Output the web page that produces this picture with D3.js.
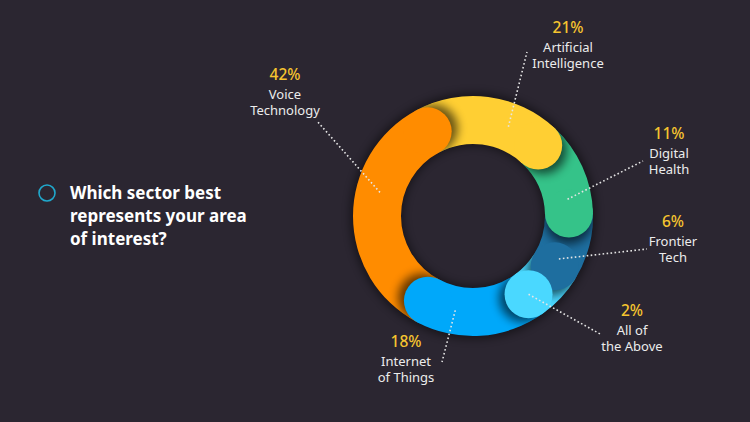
<!DOCTYPE html>
<html><head><meta charset="utf-8">
<script src="https://cdn.jsdelivr.net/npm/d3@7"></script>
<style>html,body{margin:0;padding:0;background:#2b2631;} svg{display:block}</style>
</head><body>
<svg id="c" width="750" height="422"></svg>
<script>
// ---- data ----
const categories = ["Voice Technology","Artificial Intelligence","Digital Health","Frontier Tech","All of the Above","Internet of Things"];
const nameLines = [["Voice","Technology"],["Artificial","Intelligence"],["Digital","Health"],["Frontier","Tech"],["All of","the Above"],["Internet","of Things"]];
const values = [42,21,11,6,2,18];
const colors = ["#ff8c00","#ffcf33","#35c389","#1e6e9f","#4ad8ff","#00a8fa"];
const title = ["Which sector best","represents your area","of interest?"];

// ---- layout ----
const W=750,H=422, cx=473, cy=216, rOut=120, rIn=72;
const rMid=(rOut+rIn)/2, capR=(rOut-rIn)/2, capA=capR/rMid;
const deg=Math.PI/180;
const startA=208*deg;
const labelAnchor=[[285,81],[568,34],[669,140],[673,228],[632,317],[406,348]];
const leaderEnd=[[317,121],[527,52],[643,161],[647,249],[602,335],[442,362]];

const svg=d3.select("#c");
svg.append("rect").attr("width",W).attr("height",H).attr("fill","#2b2631");
const defs=svg.append("defs");
defs.append("filter").attr("id","blur").attr("x","-50%").attr("y","-50%").attr("width","200%").attr("height","200%")
  .append("feGaussianBlur").attr("stdDeviation",5);
defs.append("filter").attr("id","ringBlur").attr("x","-20%").attr("y","-20%").attr("width","140%").attr("height","140%")
  .append("feGaussianBlur").attr("stdDeviation",4);

const pie=d3.pie().sort(null).value(d=>d).startAngle(startA).endAngle(startA+2*Math.PI).padAngle(18*deg);
const arcs=pie(values);
const arcGen=d3.arc().innerRadius(rIn).outerRadius(rOut).padAngle(0);
const pol=(r,a)=>[cx+r*Math.sin(a), cy-r*Math.cos(a)];

const g=svg.append("g");
// ring shadow
g.append("path").attr("transform",`translate(${cx},${cy})`)
  .attr("d",d3.arc().innerRadius(rIn-2).outerRadius(rOut+3)({startAngle:0,endAngle:2*Math.PI}))
  .attr("fill","#000").attr("opacity",0.45).attr("filter","url(#ringBlur)");

// bodies
g.selectAll("path.body").data(arcs).join("path").attr("class","body")
  .attr("transform",`translate(${cx},${cy})`)
  .attr("d",d=>arcGen(d)).attr("fill",(d,i)=>colors[i]);

// clip paths for shadows (forward wedge from each end)
arcs.forEach((d,i)=>{
  defs.append("clipPath").attr("id","clip"+i).append("path")
    .attr("transform",`translate(${cx},${cy})`)
    .attr("d",arcGen({startAngle:d.endAngle,endAngle:d.endAngle+50*deg}));
});

// end caps with shadows
arcs.forEach((d,i)=>{
  const [sx,sy]=pol(rMid,d.endAngle+0.07);
  g.append("g").attr("clip-path",`url(#clip${i})`)
    .append("circle").attr("cx",sx).attr("cy",sy).attr("r",capR)
    .attr("fill","#000").attr("opacity",0.6).attr("filter","url(#blur)");
  const [x,y]=pol(rMid,d.endAngle);
  g.append("circle").attr("cx",x).attr("cy",y).attr("r",capR).attr("fill",colors[i]);
});

// leader lines: from the middle of each segment's visible part
arcs.forEach((d,i)=>{
  const span=d.endAngle-d.startAngle;
  let a;
  if(span<2*capA){ a=d.endAngle; }
  else {
    const next=arcs[(i+1)%arcs.length];
    const nspan=next.endAngle-next.startAngle;
    const lo=d.startAngle+capA;
    const hi=Math.min(d.endAngle+capA, d.endAngle+nspan-capA);
    a=(lo+hi)/2;
  }
  const [x1,y1]=pol(rMid,a);
  const [x2,y2]=leaderEnd[i];
  svg.append("line").attr("x1",x1).attr("y1",y1).attr("x2",x2).attr("y2",y2)
    .attr("stroke","#e6e6e6").attr("stroke-width",1.6).attr("stroke-dasharray","1.6 2.4");
});

// labels
const font="'Noto Sans', 'Open Sans', sans-serif";
arcs.forEach((d,i)=>{
  const [lx,ly]=labelAnchor[i];
  const t=svg.append("g").attr("font-family",font).attr("text-anchor","middle");
  t.append("text").attr("x",lx).attr("y",ly-1).attr("fill","#f6c42f").attr("font-size",15.5).attr("font-weight",500)
    .text(d.value+"%");
  nameLines[i].forEach((s,j)=>{
    t.append("text").attr("x",lx).attr("y",ly+17.5+j*16.5).attr("fill","#ececec").attr("font-size",13)
      .text(s);
  });
});

// title
svg.append("circle").attr("cx",47).attr("cy",193).attr("r",8).attr("fill","none")
  .attr("stroke","#20a8cc").attr("stroke-width",1.6);
title.forEach((s,j)=>{
  svg.append("text").attr("x",70).attr("y",199+j*23).attr("fill","#ffffff")
    .attr("font-family",font).attr("font-weight",700).attr("font-size",17).text(s);
});
</script>
</body></html>
